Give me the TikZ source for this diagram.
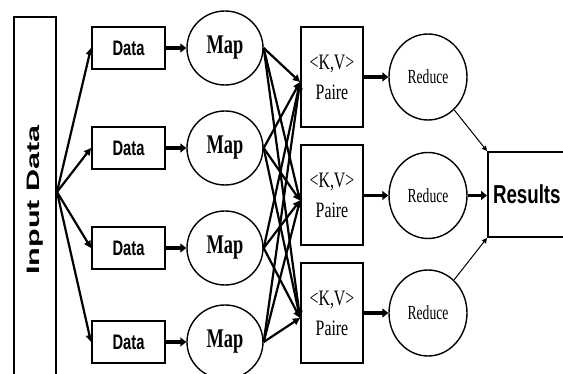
\documentclass[tikz,border=0pt]{standalone}
\usepackage{fontspec}
\setmainfont{Liberation Serif}
\setsansfont{Liberation Sans}
\usetikzlibrary{arrows.meta,shapes.geometric}
\newcommand\dtxt[1]{\scalebox{0.7}[1]{\sffamily\bfseries\fontsize{21}{21}\selectfont #1}}
\newcommand\mtxt[1]{\scalebox{0.68}[1]{\bfseries\fontsize{27}{27}\selectfont #1}}
\newcommand\ptxt[1]{\scalebox{0.72}[1]{#1}}
\newcommand\rtxt[1]{\scalebox{0.68}[1]{\fontsize{20}{20}\selectfont #1}}
\begin{document}
\begin{tikzpicture}[x=1pt,y=-1pt,
  box/.style={draw, line width=2pt, inner sep=0pt},
  ell/.style={draw, ellipse, line width=1.4pt, inner sep=0pt},
  link/.style={line width=2.2pt, -{Triangle[length=7pt,width=7pt]}},
  fat/.style={line width=3.2pt, -{Triangle[length=6pt,width=9pt]}},
  slim/.style={line width=1pt, -{Triangle[length=5pt,width=5pt]}},
]
\useasboundingbox (0,0) rectangle (563,374);
\fill[white] (0,0) rectangle (563,374);
\node[box, minimum width=42pt, minimum height=366pt] (in) at (35,200)
  {\rotatebox{90}{\scalebox{1.7}[1]{\sffamily\bfseries\fontsize{18}{18}\selectfont Input Data}}};
\coordinate (src) at ([yshift=8pt]in.east);
\foreach \i/\y in {1/48,2/148,3/248,4/342}{
  \node[box, minimum width=73pt, minimum height=42pt] (d\i) at (128.5,\y) {\dtxt{Data}};
  \node[ell, minimum width=76pt, minimum height=74pt] (m\i) at (225,\y) {\mtxt{Map}};
}
\foreach \j/\y in {1/77,2/195.5,3/313}{
  \node[box, minimum width=62pt, minimum height=100pt, align=center, font=\fontsize{22}{30}\selectfont] (p\j) at (332,\y) {\ptxt{<K,V>}\\\ptxt{Paire}};
  \node[ell, minimum width=78pt, minimum height=86pt] (r\j) at (428,\y) {\rtxt{Reduce}};
}
\node[box, anchor=west, minimum height=85pt, minimum width=110pt, text width=100pt, align=left, inner xsep=5pt] (res) at (487,194.5)
  {\scalebox{0.72}[1]{\sffamily\bfseries\fontsize{26}{26}\selectfont Results}};
\foreach \i in {1,...,4}{
  \draw[link] (src) -- (d\i.west);
  \draw[fat] (d\i.east) -- (m\i.west);
  \foreach \j in {1,2,3}{
    \draw[link] (m\i.east) -- ([yshift=-5pt]p\j.west);
  }
}
\foreach \j in {1,2,3}{
  \draw[fat] (p\j.east) -- (r\j.west);
}
\draw[slim] (r1) -- (res.north west);
\draw[slim] (r3) -- (res.south west);
\draw[fat] (r2.east) -- (res.west |- r2.east);
\end{tikzpicture}
\end{document}
